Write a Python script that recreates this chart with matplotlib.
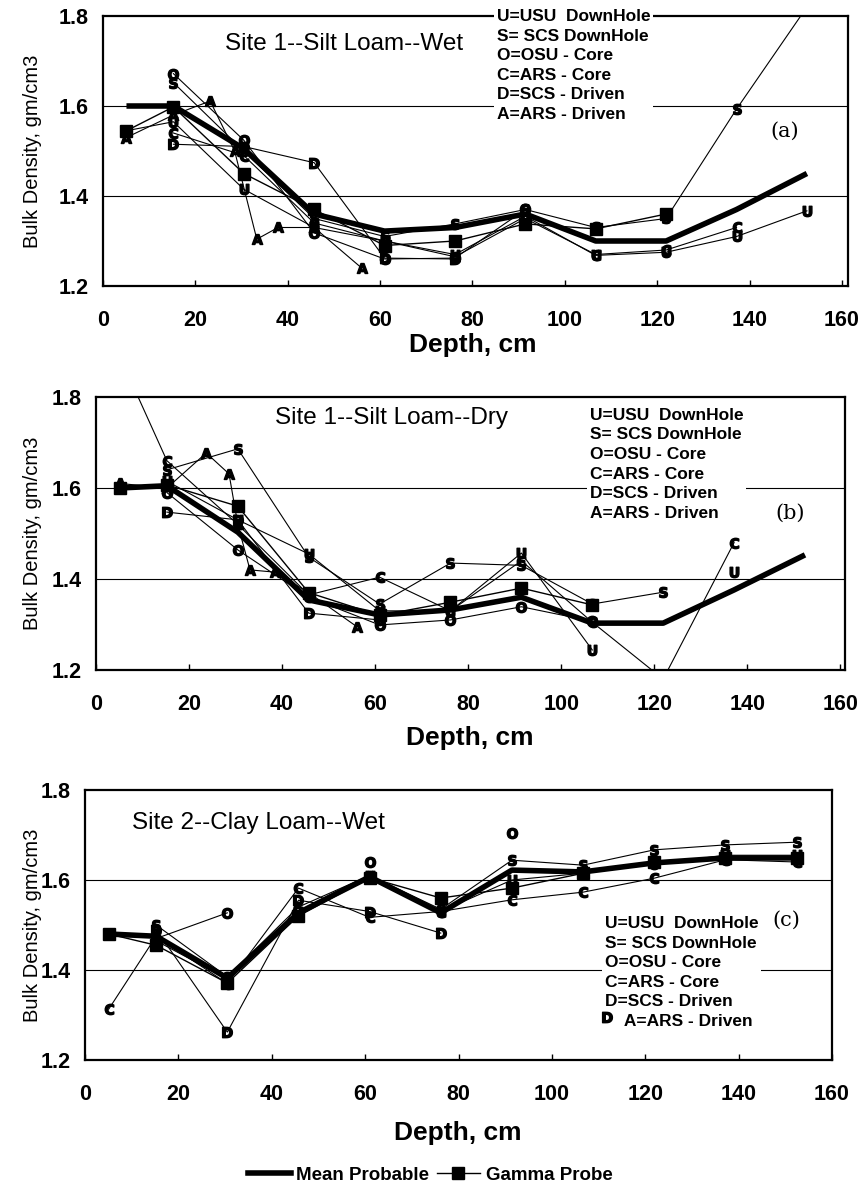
import numpy as np
import matplotlib
matplotlib.use("Agg")
import matplotlib.pyplot as plt
from matplotlib.ticker import FormatStrFormatter
from matplotlib.lines import Line2D

plt.rcParams['font.family'] = ['Liberation Sans', 'DejaVu Sans']
nan = np.nan

# ---------------- data ----------------
depth = [5.08, 15.24, 30.48, 45.72, 60.96, 76.2, 91.44, 106.68, 121.92, 137.16, 152.4]

# Panel (a) Site 1 -- Silt Loam -- Wet
a_mean  = [1.60, 1.60, 1.505, 1.36, 1.322, 1.33, 1.36, 1.30, 1.30, 1.37, 1.45]
a_gamma = [1.545, 1.598, 1.45, 1.37, 1.29, 1.30, 1.338, 1.327, 1.36, nan, nan]
a_U = [1.545, 1.565, 1.415, 1.33, 1.30, 1.27, 1.355, 1.268, 1.275, 1.31, 1.367]
a_S = [nan, 1.652, 1.50, 1.35, 1.31, 1.338, 1.37, 1.33, 1.35, 1.593, 1.82]
a_O = [nan, 1.672, 1.524, 1.318, 1.26, 1.262, 1.37, nan, nan, nan, nan]
a_C = [nan, 1.54, 1.49, 1.34, 1.30, 1.265, 1.35, 1.27, 1.28, 1.33, nan]
a_D = [nan, 1.515, 1.51, 1.474, 1.262, 1.26, nan, nan, nan, nan, nan]
a_A_depth = [5.08, 15.24, 23.2, 28.5, 33.3, 37.9, 45.72, 56.0]
a_A = [1.53, 1.58, 1.611, 1.50, 1.304, 1.33, 1.33, 1.24]

# Panel (b) Site 1 -- Silt Loam -- Dry
b_mean  = [1.60, 1.605, 1.503, 1.354, 1.321, 1.332, 1.36, 1.303, 1.303, 1.376, 1.453]
b_gamma = [1.60, 1.607, 1.56, 1.37, 1.32, 1.349, 1.38, 1.343, nan, nan, nan]
b_U = [nan, 1.615, 1.53, 1.455, 1.33, 1.33, 1.457, 1.244, nan, 1.415, nan]
b_S = [nan, 1.64, 1.686, 1.448, 1.345, 1.435, 1.43, 1.345, 1.371, nan, nan]
b_O = [nan, 1.59, 1.464, 1.36, 1.299, 1.31, 1.339, 1.307, nan, nan, nan]
b_C = [1.89, 1.66, 1.52, 1.365, 1.404, 1.33, 1.44, 1.305, 1.18, 1.48, nan]
b_D = [nan, 1.547, 1.53, 1.325, 1.31, nan, nan, nan, nan, nan, nan]
b_A_depth = [5.08, 15.24, 23.7, 28.6, 30.48, 33.1, 38.5, 45.72, 56.1]
b_A = [1.61, 1.60, 1.677, 1.631, 1.52, 1.42, 1.415, 1.37, 1.295]

# Panel (c) Site 2 -- Clay Loam -- Wet
c_mean  = [1.48, 1.475, 1.382, 1.527, 1.607, 1.527, 1.622, 1.618, 1.638, 1.649, 1.649]
c_gamma = [1.48, 1.455, 1.371, 1.52, 1.605, 1.56, 1.582, 1.615, 1.64, 1.649, 1.649]
c_U = [nan, 1.465, 1.38, 1.53, 1.61, 1.53, 1.60, 1.615, 1.635, 1.655, 1.655]
c_S = [nan, 1.50, 1.385, 1.54, 1.61, 1.535, 1.644, 1.633, 1.667, 1.678, 1.684]
c_O = [nan, 1.47, 1.527, nan, 1.64, nan, 1.704, nan, nan, nan, nan]
c_C = [1.313, 1.475, 1.37, 1.582, 1.517, 1.53, 1.556, 1.573, 1.604, 1.645, 1.64]
c_D = [nan, 1.49, 1.262, 1.555, 1.53, 1.482, nan, nan, nan, nan, nan]
c_D_extra_depth = [111.8]
c_D_extra = [1.296]

titles = ["Site 1--Silt Loam--Wet", "Site 1--Silt Loam--Dry", "Site 2--Clay Loam--Wet"]
panel_tags = ["(a)", "(b)", "(c)"]
key_lines = ["U=USU  DownHole", "S= SCS DownHole", "O=OSU - Core",
             "C=ARS - Core", "D=SCS - Driven", "A=ARS - Driven"]
xticks = [0, 20, 40, 60, 80, 100, 120, 140, 160]
yticks = [1.2, 1.4, 1.6, 1.8]

# ---------------- figure ----------------
W, H = 867, 1195
fig = plt.figure(figsize=(W / 100, H / 100), dpi=100)

def frac(l, t, r, b):
    return [l / W, 1 - b / H, (r - l) / W, (b - t) / H]

ax_a = fig.add_axes(frac(103, 16, 848, 286))
ax_b = fig.add_axes(frac(96, 397, 845, 670))
ax_c = fig.add_axes(frac(85, 790, 832, 1060))
xmax = [161.3, 161.0, 160.0]

letter_kw = dict(color='black', lw=0.8, markersize=7.5, zorder=4)

def letter(ax, x, y, ch, **kw):
    ax.plot(x, y, marker=r'$\mathbf{%s}$' % ch, **letter_kw, **kw)

def common(ax, xm):
    ax.set_xlim(0, xm)
    ax.set_ylim(1.2, 1.8)
    ax.set_xticks(xticks)
    ax.set_yticks(yticks)
    ax.yaxis.set_major_formatter(FormatStrFormatter('%.1f'))
    for y in [1.4, 1.6]:
        ax.axhline(y, color='black', lw=0.8, zorder=1)
    for s in ax.spines.values():
        s.set_linewidth(1.6)
    ax.tick_params(axis='x', direction='in', length=4, width=1, pad=17,
                   labelsize=15.5)
    ax.tick_params(axis='y', length=0, pad=10, labelsize=15.5)
    for lab in ax.get_xticklabels() + ax.get_yticklabels():
        lab.set_fontweight('bold')

def mean_gamma(ax, m, g):
    ax.plot(depth, m, color='black', lw=4, zorder=6, solid_capstyle='butt')
    ax.plot(depth, g, color='black', lw=1.0, marker='s', markersize=8, zorder=5)

def key(ax, x, y, lines):
    ax.text(x, y, "\n".join(lines), fontsize=12.5, fontweight='bold',
            ha='left', va='top', linespacing=1.38, zorder=3,
            bbox=dict(facecolor='white', edgecolor='none', pad=2))

# ---- panel a
ax = ax_a
common(ax, xmax[0])
letter(ax, depth, a_U, 'U')
letter(ax, depth, a_S, 'S')
letter(ax, depth, a_O, 'O')
letter(ax, depth, a_C, 'C')
letter(ax, depth, a_D, 'D')
letter(ax, a_A_depth, a_A, 'A')
mean_gamma(ax, a_mean, a_gamma)
ax.text(26.4, 1.738, titles[0], fontsize=17.5, ha='left', va='center', zorder=3,
        bbox=dict(facecolor='white', edgecolor='none', pad=2))
key(ax, 85.3, 1.815, key_lines)
ax.text(147.6, 1.544, panel_tags[0], fontsize=15, family='DejaVu Serif',
        ha='center', va='center')

# ---- panel b
ax = ax_b
common(ax, xmax[1])
letter(ax, depth, b_U, 'U')
letter(ax, depth, b_S, 'S')
letter(ax, depth, b_O, 'O')
letter(ax, depth, b_C, 'C')
letter(ax, depth, b_D, 'D')
letter(ax, b_A_depth, b_A, 'A')
mean_gamma(ax, b_mean, b_gamma)
ax.text(38.5, 1.754, titles[1], fontsize=17.5, ha='left', va='center', zorder=3,
        bbox=dict(facecolor='white', edgecolor='none', pad=2))
key(ax, 106.2, 1.776, key_lines)
ax.text(149.2, 1.545, panel_tags[1], fontsize=15, family='DejaVu Serif',
        ha='center', va='center')

# ---- panel c
ax = ax_c
common(ax, xmax[2])
letter(ax, depth, c_U, 'U')
letter(ax, depth, c_S, 'S')
letter(ax, depth, c_O, 'O')
letter(ax, depth, c_C, 'C')
letter(ax, depth, c_D, 'D')
mean_gamma(ax, c_mean, c_gamma)
ax.text(10.1, 1.727, titles[2], fontsize=17.5, ha='left', va='center', zorder=3,
        bbox=dict(facecolor='white', edgecolor='none', pad=2))
key_c = key_lines[:-1] + ["    " + key_lines[-1]]
key(ax, 111.3, 1.52, key_c)
letter(ax, c_D_extra_depth, c_D_extra, 'D')
ax.text(150.3, 1.511, panel_tags[2], fontsize=15, family='DejaVu Serif',
        ha='center', va='center')

# ---- axis titles
for axx in (ax_a, ax_b, ax_c):
    pos = axx.get_position()
    fig.text(33 / W, pos.y0 + pos.height / 2, "Bulk Density, gm/cm3",
             rotation=90, ha='center', va='center', fontsize=14.5)
fig.text(473 / W, 1 - 345 / H, "Depth, cm", ha='center', va='center',
         fontsize=19, fontweight='bold')
fig.text(470 / W, 1 - 738 / H, "Depth, cm", ha='center', va='center',
         fontsize=19, fontweight='bold')
fig.text(458 / W, 1 - 1133 / H, "Depth, cm", ha='center', va='center',
         fontsize=19, fontweight='bold')

# ---- bottom legend
handles = [Line2D([], [], color='black', lw=4),
           Line2D([], [], color='black', lw=1.0, marker='s', markersize=8)]
fig.legend(handles, ["Mean Probable", "Gamma Probe"], loc='center',
           bbox_to_anchor=(430 / W, 1 - 1175 / H), ncol=2, frameon=False,
           handlelength=2.3, columnspacing=0.4, handletextpad=0.3,
           prop=dict(size=13.5, weight='bold'))

fig.savefig("out.png", dpi=100)
